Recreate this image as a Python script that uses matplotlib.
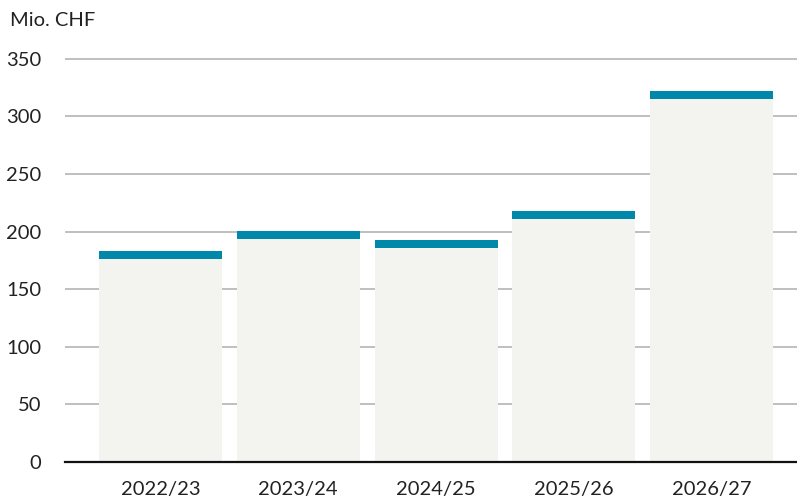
import matplotlib.pyplot as plt
import numpy as np

plt.rcParams['font.family'] = ['Lato', 'DejaVu Sans']

years = ["2022/23", "2023/24", "2024/25", "2025/26", "2026/27"]
base = [176.3, 193.6, 185.8, 211.0, 315.2]
cap = [7.0, 7.0, 7.0, 7.0, 7.0]
yticks = [0, 50, 100, 150, 200, 250, 300, 350]

GREY = "#f3f3ef"
TEAL = "#0088ab"

fig = plt.figure(figsize=(7.97, 4.99), dpi=100)
ax = fig.add_axes([65 / 797, 37 / 499, 732 / 797, 425 / 499])

x = np.arange(len(years))
ax.bar(x, base, width=0.893, color=GREY, zorder=2)
ax.bar(x, cap, bottom=base, width=0.893, color=TEAL, zorder=2)

ax.set_xlim(-0.693, 4.62)
ax.set_ylim(0, 369)
ax.set_yticks(yticks)
ax.set_xticks(x)
ax.set_xticklabels(years)
ax.yaxis.grid(True, color="#b4b4b4", linewidth=1.2, zorder=0)
ax.set_axisbelow(True)

for s in ["top", "right", "left"]:
    ax.spines[s].set_visible(False)
ax.spines["bottom"].set_color("#111111")
ax.spines["bottom"].set_linewidth(1.6)
ax.spines["bottom"].set_zorder(3)

ax.tick_params(axis="both", length=0, labelsize=14.5, colors="#222222")
ax.tick_params(axis="y", pad=17)
ax.tick_params(axis="x", pad=14)

fig.text(10 / 797, 1 - 20 / 499, "Mio. CHF", fontsize=14.5, color="#222222",
         ha="left", va="center")

fig.savefig("out.png", dpi=100)
